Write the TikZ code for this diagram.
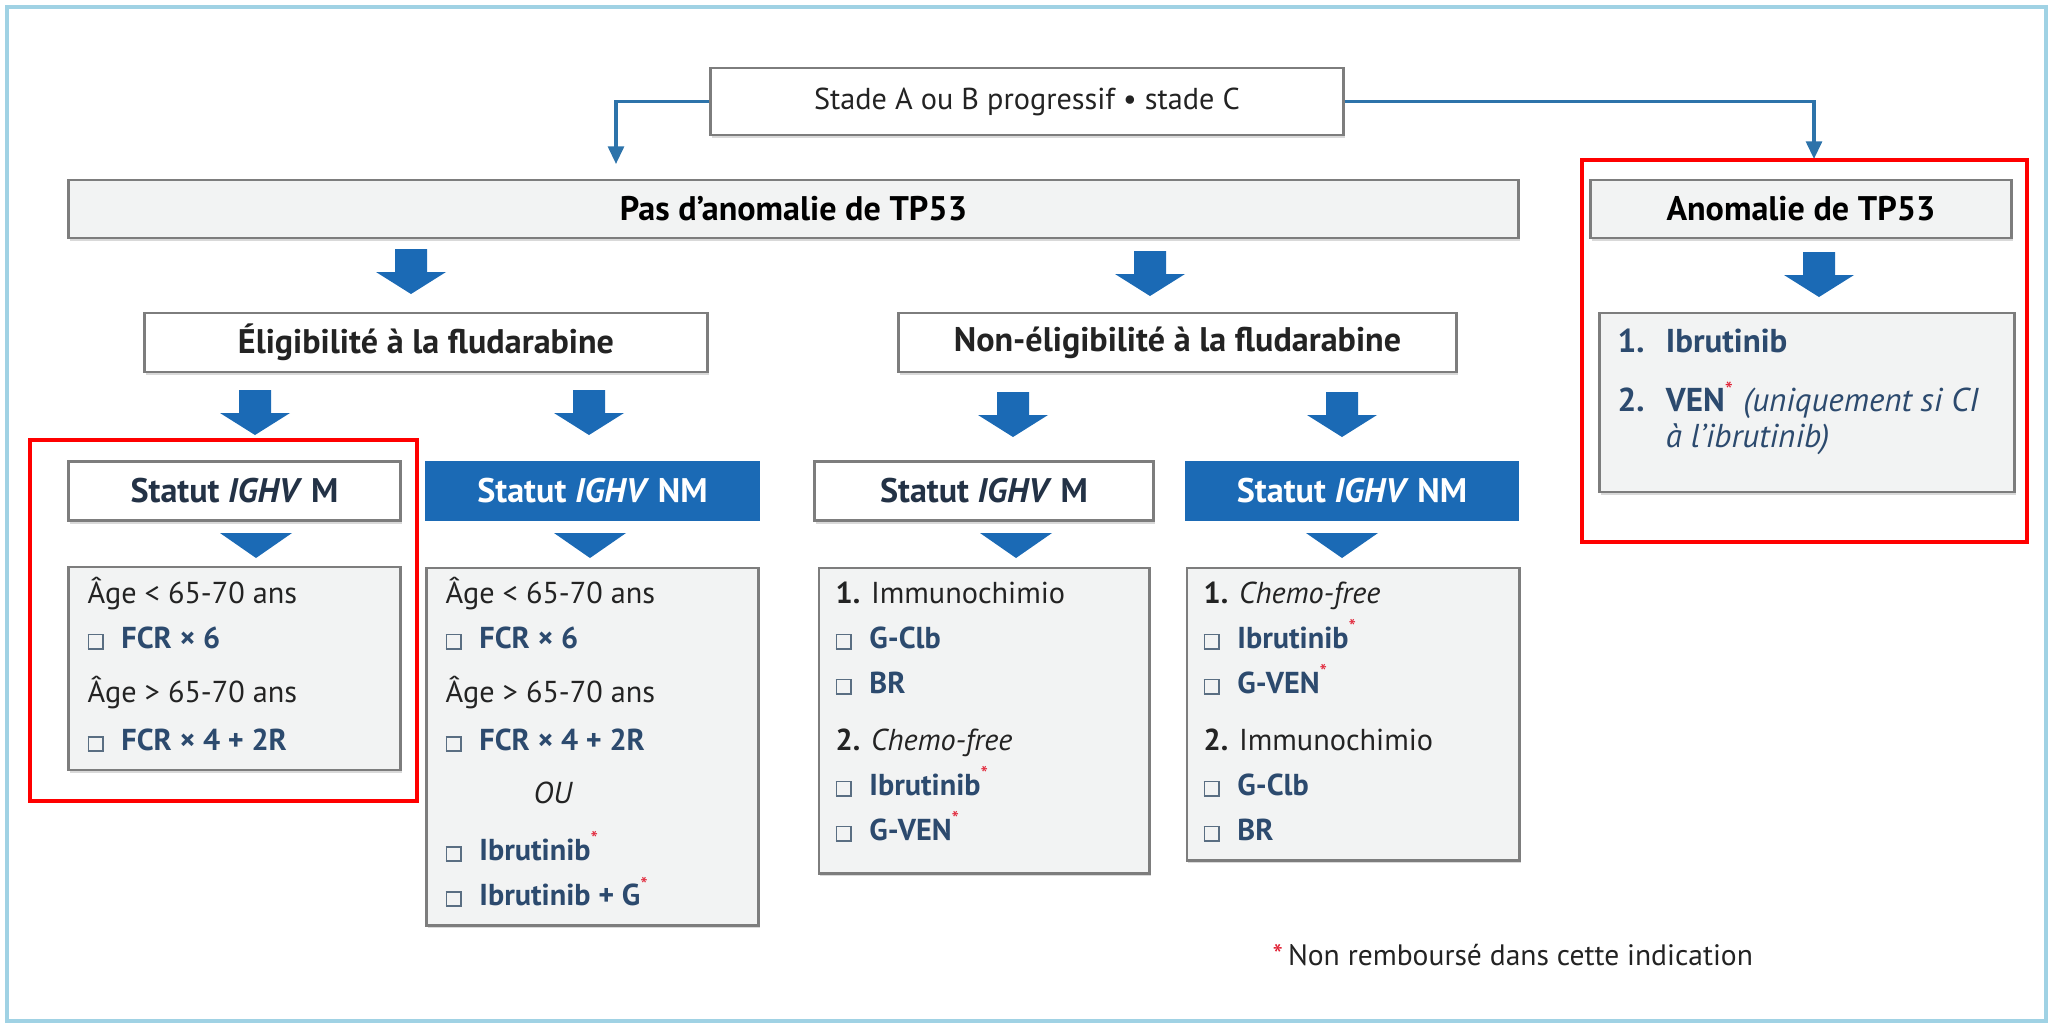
\documentclass[tikz,border=0pt]{standalone}
\usepackage{fontspec}
\setmainfont{PT Sans}
\usetikzlibrary{arrows.meta,shadows}

\definecolor{tpblue}{RGB}{27,106,181}
\definecolor{linkblue}{RGB}{45,115,170}
\definecolor{drugblue}{RGB}{44,74,110}
\definecolor{navytxt}{RGB}{35,50,70}
\definecolor{boxgray}{RGB}{125,125,125}
\definecolor{fillgray}{RGB}{242,243,243}
\definecolor{framebl}{RGB}{160,210,228}
\definecolor{starred}{RGB}{225,30,50}
\definecolor{cbgray}{RGB}{90,110,130}
\definecolor{txtgray}{RGB}{35,35,35}

\newcommand{\hdfont}{\fontsize{9.7}{11}\selectfont\bfseries}
\newcommand{\bdfont}{\fontsize{8.6}{12.8}\selectfont}
\newcommand{\cb}{\textcolor{cbgray}{\fboxsep=0pt\fboxrule=0.5pt\fbox{\rule{0pt}{3.6pt}\hspace{3.6pt}}}\hspace{5pt}}
\newcommand{\drug}[1]{\textcolor{drugblue}{\textbf{#1}}}
\newcommand{\nr}{\textsuperscript{\textcolor{starred}{*}}}

\tikzset{
  box/.style={draw=boxgray, line width=0.8pt, inner sep=0pt,
    drop shadow={shadow xshift=0.4pt, shadow yshift=-0.9pt, opacity=0.3}},
  hdrbox/.style={box, fill=white, font=\hdfont, text=txtgray},
  graybox/.style={box, fill=fillgray},
  statM/.style={box, fill=white, font=\hdfont, text=navytxt},
  statNM/.style={fill=tpblue, font=\hdfont, text=white, inner sep=0pt},
  body/.style={anchor=base west, inner sep=0pt, font=\bdfont, text=txtgray},
  link/.style={draw=linkblue, line width=0.9pt, -{Triangle[width=4.5pt,length=5pt]}},
  bigarrow/.pic={\fill[tpblue] (-16,0) -- (16,0) -- (16,23) -- (35,23) -- (0,45)
    -- (-35,23) -- (-16,23) -- cycle;},
  smalltri/.pic={\fill[tpblue] (-36,0) -- (36,0) -- (0,25) -- cycle;}
}

\begin{document}
\begin{tikzpicture}[x=0.01cm,y=-0.01cm]
  \useasboundingbox (0,0) rectangle (2056,1029);
  \draw[framebl, line width=1pt] (7,7) rectangle (2046,1021);

  % top of the tree
  \node[hdrbox, font=\fontsize{8.6}{10}\selectfont, minimum width=6.32cm, minimum height=0.67cm]
    (stade) at (1027,101.5) {Stade A ou B progressif \textbullet{} stade C};
  \node[graybox, font=\hdfont, minimum width=14.49cm, minimum height=0.58cm]
    (pas) at (793.5,209) {Pas d’anomalie de TP53};
  \node[graybox, font=\hdfont, minimum width=4.20cm, minimum height=0.58cm]
    (anom) at (1801,209) {Anomalie de TP53};
  \coordinate (ltip) at (616,164);
  \coordinate (rtip) at (1814,159);
  \draw[link] (stade.west) -| (ltip);
  \draw[link] (stade.east) -| (rtip);

  \pic at (411,249) {bigarrow};
  \pic at (1150,251) {bigarrow};
  \pic at (1819,252) {bigarrow};

  % fludarabine
  \node[hdrbox, minimum width=5.62cm, minimum height=0.59cm]
    (elig) at (426,342.5) {Éligibilité à la fludarabine};
  \node[hdrbox, minimum width=5.57cm, minimum height=0.59cm]
    (nonelig) at (1177.5,342.5) {Non-éligibilité à la fludarabine};

  \pic at (255,390) {bigarrow};
  \pic at (589,390) {bigarrow};
  \pic at (1013,392) {bigarrow};
  \pic at (1342,392) {bigarrow};

  % IGHV status
  \node[statM, minimum width=3.31cm, minimum height=0.59cm]
    (mA) at (234.5,491) {Statut \textit{IGHV} M};
  \node[statNM, minimum width=3.35cm, minimum height=0.59cm]
    (nmA) at (592.5,491) {Statut \textit{IGHV} NM};
  \node[statM, minimum width=3.38cm, minimum height=0.59cm]
    (mB) at (984,491) {Statut \textit{IGHV} M};
  \node[statNM, minimum width=3.34cm, minimum height=0.59cm]
    (nmB) at (1352,491) {Statut \textit{IGHV} NM};

  \pic at (256,533) {smalltri};
  \pic at (590,533) {smalltri};
  \pic at (1016,533) {smalltri};
  \pic at (1342,533) {smalltri};

  % treatments
  \node[graybox, minimum width=3.31cm, minimum height=2.03cm] (trtA) at (234.5,668.5) {};
  \node[graybox, minimum width=3.31cm, minimum height=3.57cm] (trtB) at (592.5,746.5) {};
  \node[graybox, minimum width=3.30cm, minimum height=3.05cm] (trtC) at (984,720.5) {};
  \node[graybox, minimum width=3.32cm, minimum height=2.92cm] (trtD) at (1353,714) {};
  \node[graybox, minimum width=4.14cm, minimum height=1.79cm] (trtE) at (1807,402.5) {};

  \node[body] (txtA) at (87,603) {\begin{minipage}[t]{3cm}
    Âge < 65-70 ans\\
    \cb\drug{FCR × 6}\\[2.6pt]
    Âge > 65-70 ans\\[0.9pt]
    \cb\drug{FCR × 4 + 2R}
  \end{minipage}};
  \node[body] (txtB) at (445,603) {\begin{minipage}[t]{3cm}
    Âge < 65-70 ans\\
    \cb\drug{FCR × 6}\\[2.6pt]
    Âge > 65-70 ans\\[0.9pt]
    \cb\drug{FCR × 4 + 2R}\\[2.3pt]
    \hspace*{25pt}\textit{OU}\\[3.4pt]
    \cb\drug{Ibrutinib}\nr\\
    \cb\drug{Ibrutinib + G}\nr
  \end{minipage}};
  \node[body] (txtC) at (835,603) {\begin{minipage}[t]{3cm}
    \textbf{1.} Immunochimio\\
    \cb\drug{G-Clb}\\
    \cb\drug{BR}\\[3.4pt]
    \textbf{2.} \textit{Chemo-free}\\
    \cb\drug{Ibrutinib}\nr\\
    \cb\drug{G-VEN}\nr
  \end{minipage}};
  \node[body] (txtD) at (1203,603) {\begin{minipage}[t]{3cm}
    \textbf{1.} \textit{Chemo-free}\\
    \cb\drug{Ibrutinib}\nr\\
    \cb\drug{G-VEN}\nr\\[3.4pt]
    \textbf{2.} Immunochimio\\
    \cb\drug{G-Clb}\\
    \cb\drug{BR}
  \end{minipage}};
  \node[body, text=drugblue, font=\fontsize{9.4}{10.2}\selectfont] (txtE) at (1617,352) {\begin{minipage}[t]{3.9cm}
    \makebox[13.7pt][l]{\textbf{1.}}\textbf{Ibrutinib}\\[6.8pt]
    \makebox[13.7pt][l]{\textbf{2.}}\textbf{VEN}\nr\ \textit{(uniquement si CI}\\
    \hspace*{13.7pt}\textit{à l’ibrutinib)}
  \end{minipage}};

  % highlighted parts
  \draw[red, line width=1.2pt] (30,440) rectangle (417,801);
  \draw[red, line width=1.2pt] (1582,160) rectangle (2027,542);

  \node[body, font=\fontsize{8.4}{10}\selectfont] (note) at (1272,965)
    {\textcolor{starred}{*}\,Non remboursé dans cette indication};
\end{tikzpicture}
\end{document}
